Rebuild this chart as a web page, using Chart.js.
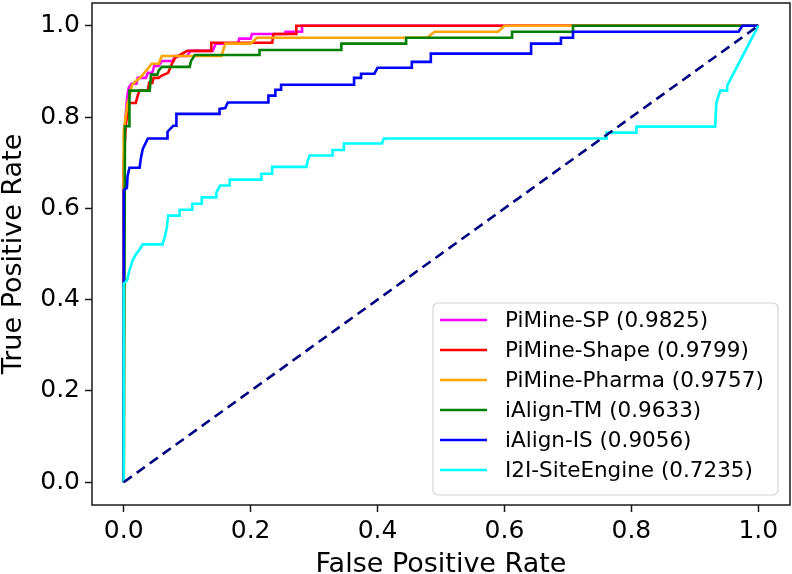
<!DOCTYPE html>
<html><head><meta charset="utf-8">
<script src="https://cdn.jsdelivr.net/npm/chart.js@4.4.1/dist/chart.umd.min.js"></script>
<style>html,body{margin:0;padding:0;background:#fff}#wrap{width:792px;height:574px;position:relative}</style>
</head><body><div id="wrap"><canvas id="c" width="792" height="574"></canvas></div>
<script>
// ---- data ----
const seriesNames = ['PiMine-SP', 'PiMine-Shape', 'PiMine-Pharma', 'iAlign-TM', 'iAlign-IS', 'I2I-SiteEngine'];
const aucValues = ['0.9825', '0.9799', '0.9757', '0.9633', '0.9056', '0.7235'];

const spFpr = [0, 0, 0.002, 0.004, 0.006, 0.008, 0.012, 0.02, 0.022, 0.035, 0.038, 0.045, 0.048, 0.055, 0.06, 0.078, 0.08, 0.1, 0.105, 0.14, 0.145, 0.18, 0.182, 0.2, 0.202, 0.255, 0.255, 0.281, 0.281, 1];
const spTpr = [0, 0.6, 0.78, 0.82, 0.85, 0.865, 0.873, 0.873, 0.886, 0.886, 0.897, 0.897, 0.912, 0.912, 0.923, 0.923, 0.934, 0.934, 0.945, 0.945, 0.961, 0.961, 0.972, 0.972, 0.982, 0.982, 0.987, 0.987, 1, 1];

const shapeFpr = [0, 0, 0.003, 0.005, 0.009, 0.019, 0.022, 0.025, 0.038, 0.04, 0.045, 0.047, 0.055, 0.06, 0.07, 0.076, 0.081, 0.1, 0.138, 0.138, 0.234, 0.236, 0.272, 0.272, 1];
const shapeTpr = [0, 0.7, 0.78, 0.8, 0.831, 0.831, 0.847, 0.858, 0.858, 0.875, 0.875, 0.886, 0.886, 0.891, 0.897, 0.917, 0.93, 0.945, 0.945, 0.963, 0.963, 0.982, 0.982, 1, 1];

const pharmaFpr = [0, 0, 0.003, 0.006, 0.01, 0.013, 0.02, 0.025, 0.038, 0.044, 0.055, 0.06, 0.154, 0.16, 0.2, 0.21, 0.478, 0.49, 0.59, 0.6, 1];
const pharmaTpr = [0, 0.77, 0.8, 0.83, 0.85, 0.87, 0.88, 0.885, 0.906, 0.917, 0.917, 0.934, 0.934, 0.961, 0.961, 0.974, 0.974, 0.987, 0.987, 1, 1];

const tmFpr = [0, 0.002, 0.009, 0.009, 0.041, 0.043, 0.053, 0.055, 0.06, 0.104, 0.106, 0.112, 0.214, 0.214, 0.343, 0.343, 0.445, 0.445, 0.612, 0.612, 0.708, 0.708, 1];
const tmTpr = [0, 0.78, 0.78, 0.858, 0.858, 0.893, 0.893, 0.902, 0.91, 0.91, 0.923, 0.936, 0.936, 0.947, 0.947, 0.961, 0.961, 0.974, 0.974, 0.987, 0.987, 1, 1];

const isFpr = [0, 0, 0.005, 0.006, 0.009, 0.025, 0.027, 0.03, 0.038, 0.069, 0.069, 0.078, 0.083, 0.083, 0.151, 0.151, 0.16, 0.164, 0.228, 0.228, 0.239, 0.239, 0.248, 0.248, 0.363, 0.363, 0.374, 0.374, 0.395, 0.4, 0.454, 0.454, 0.484, 0.484, 0.642, 0.642, 0.689, 0.689, 0.708, 0.708, 0.969, 0.975, 1];
const isTpr = [0, 0.64, 0.645, 0.67, 0.689, 0.689, 0.71, 0.73, 0.753, 0.753, 0.768, 0.781, 0.781, 0.807, 0.807, 0.818, 0.82, 0.832, 0.832, 0.847, 0.847, 0.86, 0.86, 0.871, 0.871, 0.886, 0.886, 0.895, 0.895, 0.908, 0.908, 0.921, 0.921, 0.939, 0.939, 0.961, 0.961, 0.974, 0.974, 0.987, 0.987, 1, 1];

const i2iFpr = [0, 0, 0.005, 0.009, 0.014, 0.02, 0.025, 0.03, 0.061, 0.064, 0.068, 0.07, 0.088, 0.088, 0.108, 0.108, 0.123, 0.123, 0.146, 0.146, 0.152, 0.167, 0.167, 0.217, 0.217, 0.234, 0.234, 0.288, 0.29, 0.293, 0.329, 0.329, 0.347, 0.347, 0.407, 0.41, 0.761, 0.761, 0.808, 0.808, 0.932, 0.934, 0.94, 0.951, 0.951, 1];
const i2iTpr = [0, 0.435, 0.442, 0.464, 0.486, 0.501, 0.51, 0.521, 0.521, 0.534, 0.558, 0.584, 0.584, 0.597, 0.597, 0.61, 0.61, 0.624, 0.624, 0.635, 0.65, 0.65, 0.663, 0.663, 0.676, 0.676, 0.691, 0.691, 0.705, 0.716, 0.716, 0.728, 0.728, 0.742, 0.742, 0.753, 0.753, 0.766, 0.766, 0.779, 0.779, 0.832, 0.858, 0.858, 0.869, 1];

const chanceFpr = [0, 1];
const chanceTpr = [0, 1];

const xTickValues = [0, 0.2, 0.4, 0.6, 0.8, 1.0];
const yTickValues = [0, 0.2, 0.4, 0.6, 0.8, 1.0];

// ---- styles ----
const lineColors = ['#ff00ff', '#ff0000', '#ffa500', '#008000', '#0000ff', '#00ffff'];
const FONT = "'DejaVu Sans', sans-serif";

const fprs = [spFpr, shapeFpr, pharmaFpr, tmFpr, isFpr, i2iFpr];
const tprs = [spTpr, shapeTpr, pharmaTpr, tmTpr, isTpr, i2iTpr];
const toPts = (xs, ys) => xs.map((x, i) => ({x: x, y: ys[i]}));

const datasets = seriesNames.map((n, i) => ({
  label: n + ' (' + aucValues[i] + ')',
  data: toPts(fprs[i], tprs[i]),
  borderColor: lineColors[i],
  backgroundColor: lineColors[i],
  borderWidth: 2.6,
  pointRadius: 0,
  tension: 0,
  fill: false,
  order: 10 - i
}));
datasets.push({
  label: 'chance',
  data: toPts(chanceFpr, chanceTpr),
  borderColor: '#000080',
  borderWidth: 2.6,
  borderDash: [10, 6],
  pointRadius: 0,
  fill: false,
  order: 0
});

const frameAndLegend = {
  id: 'frameAndLegend',
  afterDatasetsDraw(chart) {
    const ctx = chart.ctx, a = chart.chartArea;
    ctx.save();
    ctx.strokeStyle = '#1a1a1a';
    ctx.lineWidth = 1.5;
    ctx.strokeRect(a.left, a.top, a.right - a.left, a.bottom - a.top);
    ctx.restore();
  },
  afterDraw(chart) {
    const ctx = chart.ctx, a = chart.chartArea;
    const bw = 345, bh = 192;
    const bx = a.right - 12 - bw, by = a.bottom - 10 - bh;
    ctx.save();
    ctx.beginPath();
    ctx.roundRect(bx, by, bw, bh, 5);
    ctx.fillStyle = 'rgba(255,255,255,0.85)';
    ctx.fill();
    ctx.strokeStyle = '#d4d4d4';
    ctx.lineWidth = 1.2;
    ctx.stroke();
    ctx.font = '21.5px ' + FONT;
    ctx.textBaseline = 'middle';
    ctx.textAlign = 'left';
    seriesNames.forEach((n, i) => {
      const y = by + 17 + i * 30;
      ctx.beginPath();
      ctx.moveTo(bx + 7, y);
      ctx.lineTo(bx + 54, y);
      ctx.strokeStyle = lineColors[i];
      ctx.lineWidth = 2.6;
      ctx.stroke();
      ctx.fillStyle = '#000';
      ctx.fillText(n + ' (' + aucValues[i] + ')', bx + 72, y + 1);
    });
    ctx.restore();
  }
};

new Chart(document.getElementById('c'), {
  type: 'line',
  data: { datasets: datasets },
  options: {
    responsive: false,
    animation: false,
    devicePixelRatio: 1,
    layout: { padding: { top: 3, right: 2, left: 0, bottom: 0 } },
    plugins: { legend: { display: false }, tooltip: { enabled: false } },
    scales: {
      x: {
        type: 'linear', min: -0.05, max: 1.05,
        afterBuildTicks: s => { s.ticks = xTickValues.map(v => ({value: v})); },
        afterFit: s => { s.height = 69; s.paddingLeft = 0; s.paddingRight = 0; },
        border: { display: false },
        grid: { display: true, drawOnChartArea: false, drawTicks: true, tickLength: 7, tickColor: '#1a1a1a', tickWidth: 1.5 },
        ticks: { color: '#000', font: { family: FONT, size: 25 }, padding: 4, maxRotation: 0, autoSkip: false, callback: v => v.toFixed(1) },
        title: { display: true, text: 'False Positive Rate', color: '#000', font: { family: FONT, size: 27, lineHeight: 1 }, padding: { top: 0, bottom: -4 } }
      },
      y: {
        type: 'linear', min: -0.05, max: 1.05,
        afterBuildTicks: s => { s.ticks = yTickValues.map(v => ({value: v})); },
        afterFit: s => { s.width = 92; s.paddingTop = 0; s.paddingBottom = 0; },
        border: { display: false },
        grid: { display: true, drawOnChartArea: false, drawTicks: true, tickLength: 7, tickColor: '#1a1a1a', tickWidth: 1.5 },
        ticks: { color: '#000', font: { family: FONT, size: 25 }, padding: 5, autoSkip: false, callback: v => v.toFixed(1) },
        title: { display: true, text: 'True Positive Rate', color: '#000', font: { family: FONT, size: 27, lineHeight: 1 }, padding: { top: 0, bottom: 0 } }
      }
    }
  },
  plugins: [frameAndLegend]
});
</script></body></html>
